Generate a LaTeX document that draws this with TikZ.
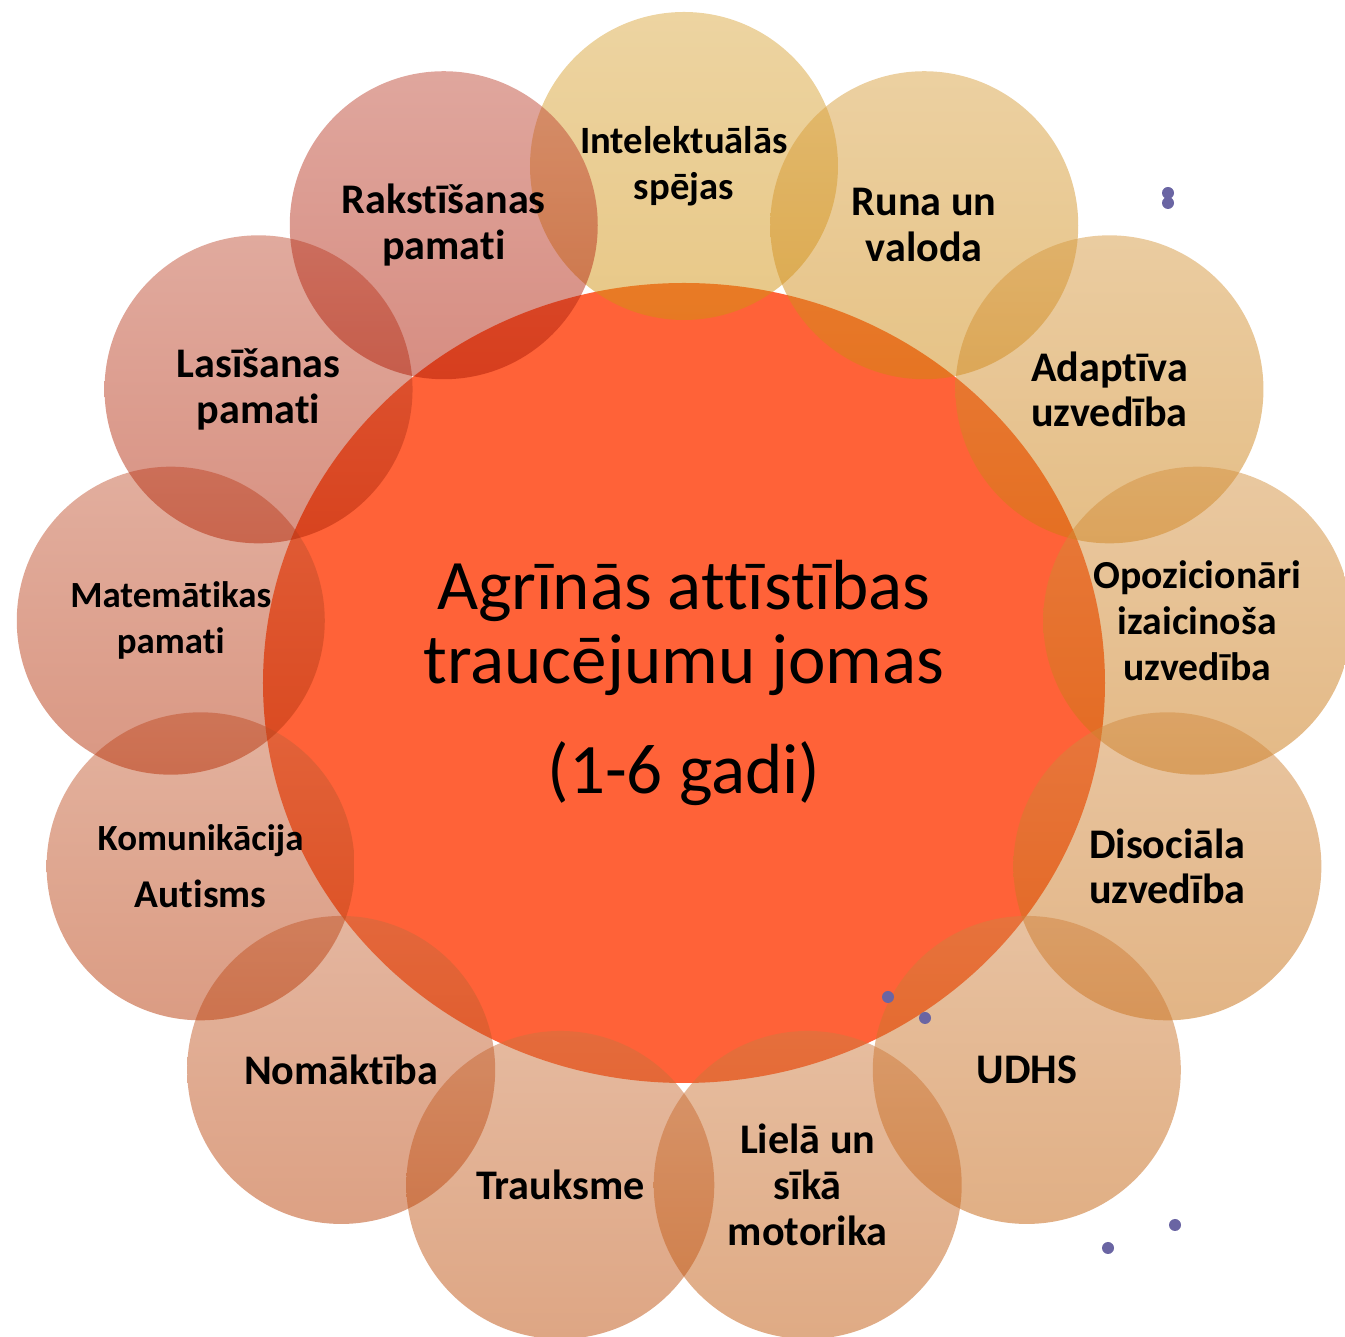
\documentclass[tikz,border=0pt]{standalone}
\usepackage{fontspec}
\setmainfont{Carlito}[Ligatures=NoCommon]
\definecolor{ringgold}{RGB}{209,145,15}
\definecolor{ringred}{RGB}{175,28,5}
\definecolor{corefill}{RGB}{255,98,56}
\definecolor{speck}{RGB}{106,101,163}
\tikzset{
  bubble/.style={circle, minimum size=3.08cm, inner sep=0pt, fill opacity=0.5},
  bubtext/.style={align=center, text=black}
}
\begin{document}
\begin{tikzpicture}
	\useasboundingbox (-6.84,-6.54) rectangle (6.61,6.83);
	\fill[corefill] (0,0) ellipse (4.21 and 4.0);
	\node[align=center, font=\fontsize{20.2}{21.3}\selectfont] (title) at (0,0) {Agrīnās attīstības\\traucējumu jomas\\[10pt](1-6 gadi)};
	% ring of areas
	\foreach \i in {0,...,12}{
		\pgfmathtruncatemacro\p{round(\i*100/12)}
		\colorlet{bub}{ringred!\p!ringgold}
		\node[bubble, top color=bub!78!white, bottom color=bub] (b\i) at ({90-\i*360/13}:5.17) {};
	}
	\foreach \i/\sz/\txt in {0/11/{Intelektuālās\\spējas}, 1/12/{Runa un\\valoda}, 2/12/{Adaptīva\\uzvedība},
		3/11.3/{Opozicionāri\\izaicinoša\\uzvedība}, 4/12/{Disociāla\\uzvedība}, 5/12/{UDHS},
		6/12/{Lielā un\\sīkā\\motorika}, 7/12/{Trauksme}, 8/12/{Nomāktība},
		9/10.5/{Komunikācija\\[3pt]{\fontsize{11.2}{13}\selectfont Autisms}}, 10/10.5/{Matemātikas\\pamati},
		11/12/{Lasīšanas\\pamati}, 12/12/{Rakstīšanas\\pamati}}
		\node[bubtext, font=\fontsize{\sz}{13}\selectfont\bfseries] (l\i) at (b\i) {\txt};
	% stray dots
	\fill[speck] (4.84,4.90) circle (0.06) (4.84,4.80) circle (0.06);
	\fill[speck] (2.04,-3.14) circle (0.06) (2.41,-3.35) circle (0.06);
	\fill[speck] (4.24,-5.65) circle (0.06) (4.91,-5.42) circle (0.06);
\end{tikzpicture}
\end{document}
